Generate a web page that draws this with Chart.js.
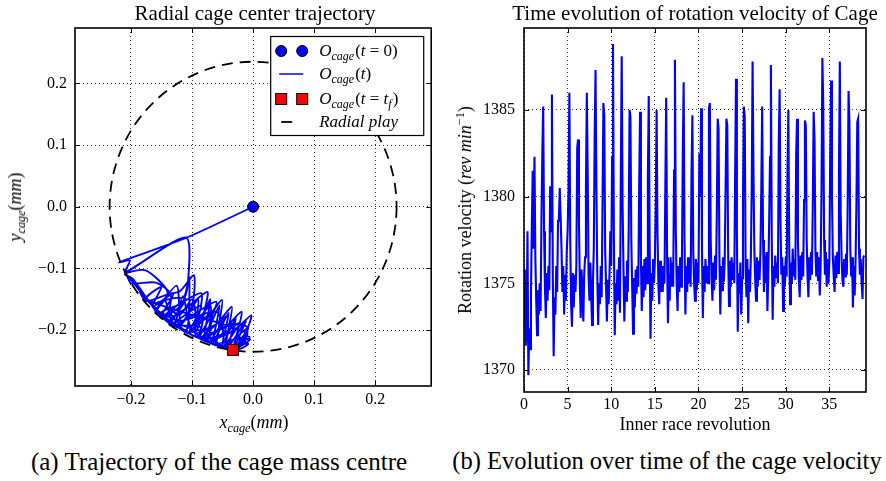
<!DOCTYPE html>
<html>
<head>
<meta charset="utf-8">
<script src="https://cdn.jsdelivr.net/npm/chart.js@4.4.1/dist/chart.umd.min.js"></script>
<style>
  body { margin: 0; background: #fff; }
  #wrap { position: relative; width: 886px; height: 481px; overflow: hidden; font-family: "Liberation Serif", serif; color: #000; }
  canvas { position: absolute; top: 0; }
  .txt { position: absolute; white-space: nowrap; transform: translate(-50%, -50%); line-height: 1; }
  .rot { transform: translate(-50%, -50%) rotate(-90deg); }
  sub { font-size: 68%; vertical-align: -0.3em; line-height: 0; }
  sup { font-size: 68%; vertical-align: 0.6em; line-height: 0; }
</style>
</head>
<body>
<div id="wrap">
  <canvas id="trajCanvas" width="440" height="440" style="left:0"></canvas>
  <canvas id="velCanvas" width="443" height="440" style="left:443px"></canvas>

  <div class="txt" style="left:255px; top:13px; font-size:21px">Radial cage center trajectory</div>
  <div class="txt" style="left:695px; top:13px; font-size:21px">Time evolution of rotation velocity of Cage</div>

  <div class="txt" style="left:254px; top:422px; font-size:18px"><i>x</i><sub><i>cage</i></sub>(<i>mm</i>)</div>
  <div class="txt rot" style="left:15px; top:207px; font-size:18px"><i>y</i><sub><i>cage</i></sub>(<i>mm</i>)</div>
  <div class="txt" style="left:695px; top:424px; font-size:18px">Inner race revolution</div>
  <div class="txt rot" style="left:465px; top:210px; font-size:18px">Rotation velocity (<i>rev min</i><sup>−1</sup>)</div>

  <div class="txt" style="left:219px; top:461px; font-size:25px">(a) Trajectory of the cage mass centre</div>
  <div class="txt" style="left:667px; top:461px; font-size:24.5px">(b) Evolution over time of the cage velocity</div>
</div>

<script>
// ---- left plot: cage centre trajectory (mm)
var trajX = [0, -0.111, -0.219, -0.202, -0.209, -0.110, -0.107, -0.118, -0.150, -0.197,
  -0.210, -0.176, -0.140, -0.160, -0.205, -0.200, -0.159, -0.135, -0.143, -0.185,
  -0.175, -0.140, -0.120, -0.097, -0.100, -0.125, -0.165, -0.130, -0.113, -0.105,
  -0.105, -0.110, -0.150, -0.125, -0.085, -0.090, -0.105, -0.135, -0.110, -0.075,
  -0.080, -0.090, -0.120, -0.090, -0.060, -0.068, -0.075, -0.110, -0.075, -0.051,
  -0.055, -0.062, -0.095, -0.060, -0.035, -0.040, -0.048, -0.085, -0.045, -0.019,
  -0.025, -0.035, -0.070, -0.030, -0.003, -0.012, -0.025, -0.060, -0.020, -0.006,
  -0.012, -0.045, -0.090, -0.070, -0.075, -0.120, -0.140, -0.120, -0.100, -0.095,
  -0.130, -0.155, -0.120, -0.060, -0.050, -0.080, -0.035, -0.010, -0.015, -0.050,
  -0.100, -0.115, -0.130, -0.145, -0.160, -0.125, -0.118, -0.090, -0.095, -0.070,
  -0.080, -0.055, -0.065, -0.040, -0.050, -0.028, -0.040, -0.012, -0.030, -0.010,
  -0.175, -0.150, -0.165, -0.130, -0.150, -0.110, -0.135, -0.085, -0.105, -0.065,
  -0.088, -0.045, -0.070, -0.022, -0.045, -0.008, -0.028, -0.005,
  -0.025, -0.008, -0.020, -0.033];
var trajY = [0, -0.051, -0.090, -0.087, -0.106, -0.050, -0.126, -0.160, -0.176, -0.117,
  -0.109, -0.103, -0.138, -0.164, -0.112, -0.124, -0.123, -0.142, -0.178, -0.138,
  -0.153, -0.142, -0.137, -0.111, -0.160, -0.195, -0.160, -0.148, -0.146, -0.114,
  -0.170, -0.200, -0.172, -0.160, -0.140, -0.180, -0.205, -0.183, -0.165, -0.138,
  -0.170, -0.210, -0.192, -0.170, -0.154, -0.180, -0.216, -0.200, -0.180, -0.151,
  -0.185, -0.221, -0.208, -0.190, -0.162, -0.195, -0.225, -0.213, -0.195, -0.170,
  -0.200, -0.228, -0.220, -0.200, -0.176, -0.205, -0.230, -0.224, -0.212, -0.211,
  -0.222, -0.228, -0.190, -0.160, -0.200, -0.190, -0.165, -0.175, -0.150, -0.190,
  -0.190, -0.170, -0.185, -0.170, -0.205, -0.215, -0.190, -0.195, -0.220, -0.226,
  -0.200, -0.145, -0.195, -0.150, -0.170, -0.128, -0.190, -0.150, -0.205, -0.150,
  -0.212, -0.160, -0.218, -0.172, -0.222, -0.180, -0.226, -0.185, -0.228, -0.205,
  -0.150, -0.130, -0.162, -0.140, -0.178, -0.150, -0.190, -0.160, -0.205, -0.168,
  -0.213, -0.178, -0.220, -0.188, -0.225, -0.196, -0.229, -0.215,
  -0.215, -0.222, -0.230, -0.232];
var radialPlay = 0.235;
var trajTicks = [-0.2, -0.1, 0, 0.1, 0.2];
var trajTickLabels = ['−0.2', '−0.1', '0.0', '0.1', '0.2'];
var legendLabels = [
  [['O', 'i'], ['cage', 's'], ['(', ''], ['t', 'i'], [' = ', ''], ['0', ''], [')', '']],
  [['O', 'i'], ['cage', 's'], ['(', ''], ['t', 'i'], [')', '']],
  [['O', 'i'], ['cage', 's'], ['(', ''], ['t', 'i'], [' = ', ''], ['t', 'i'], ['f', 's'], [')', '']],
  [['Radial play', 'i']]
];

// ---- right plot: cage rotation velocity (rev/min), one row per inner race revolution
var revStep = 0.1;
var velocity = [
  1375.8, 1373.0, 1371.4, 1372.5, 1378.0, 1369.7, 1372.4, 1371.2, 1374.5, 1378.5,
  1381.5, 1377.0, 1382.3, 1376.5, 1374.0, 1372.0, 1374.6, 1373.2, 1375.0, 1373.4,
  1378.7, 1382.5, 1385.2, 1378.0, 1374.8, 1373.0, 1375.6, 1374.0, 1376.0, 1374.6,
  1380.6, 1378.0, 1385.9, 1375.5, 1370.8, 1374.2, 1373.2, 1376.0, 1374.5, 1378.6,
  1378.7, 1380.5, 1378.8, 1377.0, 1374.5, 1376.0, 1373.2, 1375.5, 1374.0, 1376.8,
  1378.0, 1380.4, 1386.0, 1377.5, 1373.8, 1372.5, 1375.6, 1373.6, 1375.5, 1374.5,
  1376.0, 1382.8, 1383.3, 1378.5, 1375.0, 1373.0, 1375.8, 1374.5, 1372.8, 1375.5,
  1376.5, 1380.6, 1386.0, 1381.5, 1375.5, 1374.0, 1376.2, 1374.5, 1372.6, 1375.0,
  1377.0, 1383.5, 1387.3, 1380.5, 1375.5, 1372.6, 1375.0, 1373.8, 1376.0, 1374.2,
  1379.5, 1385.4, 1384.7, 1377.0, 1375.0, 1372.8, 1375.2, 1373.8, 1375.5, 1378.0,
  1376.0, 1382.3, 1388.8, 1378.0, 1372.0, 1375.0, 1373.8, 1375.8, 1374.0, 1376.5,
  1373.3, 1381.5, 1388.1, 1379.5, 1376.0, 1372.8, 1375.4, 1374.0, 1376.3, 1374.5,
  1378.0, 1385.0, 1384.6, 1377.5, 1374.8, 1372.1, 1375.3, 1373.6, 1375.8, 1374.4,
  1376.0, 1374.8, 1380.5, 1384.9, 1376.5, 1373.4, 1376.0, 1374.2, 1376.4, 1374.6,
  1376.5, 1375.0, 1381.2, 1385.8, 1377.5, 1371.8, 1375.6, 1374.0, 1376.4, 1375.0,
  1376.3, 1379.5, 1385.0, 1378.0, 1375.0, 1373.8, 1376.3, 1374.5, 1376.0, 1374.5,
  1376.0, 1375.0, 1380.5, 1385.7, 1376.5, 1372.7, 1375.5, 1374.0, 1376.5, 1374.8,
  1376.2, 1374.8, 1381.5, 1387.9, 1378.0, 1375.0, 1373.4, 1376.0, 1374.5, 1376.5,
  1374.8, 1376.2, 1382.5, 1386.6, 1377.5, 1373.2, 1376.0, 1374.5, 1376.5, 1375.0,
  1376.5, 1374.8, 1381.3, 1384.7, 1376.8, 1375.0, 1374.0, 1376.4, 1374.6, 1376.2,
  1375.0, 1382.5, 1380.0, 1385.1, 1377.0, 1373.0, 1376.0, 1374.5, 1376.4, 1375.0,
  1376.0, 1375.0, 1385.1, 1385.4, 1377.5, 1375.2, 1374.0, 1376.2, 1374.6, 1376.6,
  1375.2, 1379.0, 1384.5, 1383.9, 1376.5, 1373.2, 1376.0, 1374.6, 1376.5, 1375.1,
  1376.2, 1380.2, 1384.5, 1384.1, 1376.8, 1373.7, 1376.3, 1374.8, 1376.5, 1375.2,
  1376.2, 1375.0, 1381.2, 1386.8, 1378.0, 1372.2, 1375.6, 1374.4, 1376.2, 1373.2,
  1375.3, 1379.9, 1385.2, 1384.6, 1376.0, 1374.2, 1376.4, 1372.7, 1375.8, 1374.5,
  1376.5, 1380.4, 1387.8, 1381.5, 1377.0, 1375.2, 1374.0, 1376.5, 1374.8, 1376.3,
  1375.2, 1376.8, 1380.5, 1385.2, 1377.5, 1374.5, 1376.6, 1375.0, 1376.8, 1373.4,
  1375.5, 1378.5, 1382.3, 1387.6, 1377.5, 1372.9, 1376.0, 1374.8, 1376.6, 1375.3,
  1376.2, 1375.0, 1383.0, 1386.2, 1378.5, 1375.5, 1376.5, 1373.4, 1376.0, 1374.8,
  1376.5, 1375.4, 1381.4, 1385.0, 1377.0, 1373.8, 1376.2, 1375.0, 1377.0, 1375.4,
  1376.4, 1375.2, 1382.6, 1384.5, 1377.5, 1375.3, 1374.2, 1376.6, 1375.2, 1376.8,
  1375.4, 1379.8, 1384.4, 1384.1, 1377.5, 1375.4, 1374.2, 1376.5, 1375.2, 1376.8,
  1375.5, 1379.5, 1384.9, 1383.3, 1377.0, 1375.4, 1376.8, 1375.2, 1376.5, 1374.3,
  1376.0, 1380.2, 1388.0, 1385.3, 1377.5, 1375.5, 1376.8, 1374.8, 1376.4, 1375.0,
  1376.3, 1382.4, 1386.7, 1380.0, 1376.5, 1375.4, 1374.5, 1376.6, 1375.3, 1376.8,
  1375.6, 1381.4, 1387.8, 1379.0, 1376.5, 1375.2, 1374.8, 1376.4, 1375.4, 1376.7,
  1375.5, 1379.5, 1386.1, 1384.3, 1377.0, 1375.4, 1376.5, 1373.6, 1376.0, 1374.3,
  1376.2, 1379.5, 1384.3, 1384.5, 1377.0, 1375.5, 1376.4, 1375.0, 1374.1, 1376.5,
  1376.6
];
var velXTicks = [0, 5, 10, 15, 20, 25, 30, 35];
var velXTickLabels = ['0', '5', '10', '15', '20', '25', '30', '35'];
var velYTicks = [1370, 1375, 1380, 1385];
var velYTickLabels = ['1370', '1375', '1380', '1385'];

Chart.defaults.font.family = '"Liberation Serif", serif';
Chart.defaults.font.size = 16;
Chart.defaults.color = '#000';

// box round the plot area plus matplotlib-like inward ticks
var framePlugin = {
  id: 'frame',
  afterDatasetsDraw: function(chart) {
    var a = chart.chartArea, ctx = chart.ctx;
    var xs = chart.scales.x, ys = chart.scales.y;
    ctx.save();
    ctx.strokeStyle = '#000';
    ctx.lineWidth = 1;
    ctx.beginPath();
    xs.ticks.forEach(function(t) {
      var px = Math.round(xs.getPixelForValue(t.value)) + 0.5;
      ctx.moveTo(px, a.top); ctx.lineTo(px, a.top + 5);
      ctx.moveTo(px, a.bottom); ctx.lineTo(px, a.bottom - 5);
    });
    ys.ticks.forEach(function(t) {
      var py = Math.round(ys.getPixelForValue(t.value)) + 0.5;
      ctx.moveTo(a.left, py); ctx.lineTo(a.left + 5, py);
      ctx.moveTo(a.right, py); ctx.lineTo(a.right - 5, py);
    });
    ctx.stroke();
    ctx.lineWidth = 1.6;
    ctx.strokeRect(a.left, a.top, a.right - a.left, a.bottom - a.top);
    ctx.restore();
  }
};

// dashed circle of the radial play, drawn right after the trajectory
var radialPlayPlugin = {
  id: 'radialPlay',
  afterDatasetDraw: function(chart, args) {
    if (args.index !== 2) return;
    var xs = chart.scales.x, ys = chart.scales.y, ctx = chart.ctx, a = chart.chartArea;
    var cx = xs.getPixelForValue(0), cy = ys.getPixelForValue(0);
    var rx = xs.getPixelForValue(radialPlay) - cx;
    var ry = cy - ys.getPixelForValue(radialPlay);
    ctx.save();
    ctx.beginPath();
    ctx.rect(a.left, a.top, a.right - a.left, a.bottom - a.top);
    ctx.clip();
    ctx.setLineDash([11, 7]);
    ctx.lineWidth = 1.8;
    ctx.strokeStyle = '#000';
    ctx.beginPath();
    ctx.ellipse(cx, cy, rx, ry, 0, 0, 2 * Math.PI);
    ctx.stroke();
    ctx.restore();
  }
};

function drawMath(ctx, x, y, parts) {
  parts.forEach(function(p) {
    var sub = p[1] === 's';
    var italic = p[1] === 'i' || sub;
    ctx.font = (italic ? 'italic ' : '') + (sub ? '12px' : '17px') + ' "Liberation Serif", serif';
    ctx.fillText(p[0], x, sub ? y + 4 : y);
    x += ctx.measureText(p[0]).width + (sub ? 1 : 0);
  });
}

var legendPlugin = {
  id: 'mathLegend',
  afterDraw: function(chart) {
    var a = chart.chartArea, ctx = chart.ctx;
    var w = 153, h = 99;
    var left = a.right - 8 - w, top = a.top + 8;
    var rows = [15, 38, 63, 86];
    ctx.save();
    ctx.fillStyle = '#fff';
    ctx.fillRect(left, top, w, h);
    ctx.strokeStyle = '#000';
    ctx.lineWidth = 1.2;
    ctx.strokeRect(left + 0.5, top + 0.5, w, h);

    // markers
    [11, 32].forEach(function(dx) {
      ctx.beginPath();
      ctx.arc(left + dx, top + rows[0], 5.5, 0, 2 * Math.PI);
      ctx.fillStyle = '#0000ff'; ctx.fill();
      ctx.lineWidth = 1; ctx.strokeStyle = '#000'; ctx.stroke();
      ctx.fillStyle = '#ff0000';
      ctx.fillRect(left + dx - 5.5, top + rows[2] - 5.5, 11, 11);
      ctx.strokeRect(left + dx - 5.5, top + rows[2] - 5.5, 11, 11);
    });
    ctx.beginPath();
    ctx.moveTo(left + 9, top + rows[1]); ctx.lineTo(left + 33, top + rows[1]);
    ctx.strokeStyle = '#0000ff'; ctx.lineWidth = 1.5; ctx.stroke();
    ctx.beginPath();
    ctx.moveTo(left + 11, top + rows[3]); ctx.lineTo(left + 22, top + rows[3]);
    ctx.strokeStyle = '#000'; ctx.lineWidth = 1.8; ctx.stroke();

    ctx.fillStyle = '#000';
    ctx.textBaseline = 'alphabetic';
    legendLabels.forEach(function(parts, i) {
      drawMath(ctx, left + 49, top + rows[i] + 5, parts);
    });
    ctx.restore();
  }
};

function gridOpts() {
  return { color: '#000', lineWidth: 0.8, drawTicks: false };
}

var trajPoints = trajX.map(function(x, i) { return { x: x, y: trajY[i] }; });
var last = trajPoints.length - 1;

new Chart(document.getElementById('trajCanvas'), {
  type: 'scatter',
  data: {
    datasets: [
      { data: [trajPoints[0]], pointRadius: 5.5, pointBackgroundColor: '#0000ff', pointBorderColor: '#000', pointBorderWidth: 1 },
      { data: [trajPoints[last]], pointStyle: 'rect', pointRadius: 7.8, pointBackgroundColor: '#ff0000', pointBorderColor: '#000', pointBorderWidth: 1 },
      { data: trajPoints, showLine: true, borderColor: '#0000ff', borderWidth: 1.9, pointRadius: 0, tension: 0.25 }
    ]
  },
  options: {
    responsive: false,
    animation: false,
    layout: { padding: { top: 28, right: 5, left: 0, bottom: 0 } },
    plugins: { legend: { display: false }, tooltip: { enabled: false } },
    scales: {
      x: {
        type: 'linear', min: -0.2917, max: 0.2917,
        afterBuildTicks: function(s) { s.ticks = trajTicks.map(function(v) { return { value: v }; }); },
        afterFit: function(s) { s.height = 54; },
        grid: gridOpts(),
        border: { display: false, dash: [1, 3] },
        ticks: { padding: 4, autoSkip: false, maxRotation: 0, callback: function(v, i) { return trajTickLabels[i]; } }
      },
      y: {
        type: 'linear', min: -0.2905, max: 0.2897,
        afterBuildTicks: function(s) { s.ticks = trajTicks.map(function(v) { return { value: v }; }); },
        afterFit: function(s) { s.width = 75; },
        grid: gridOpts(),
        border: { display: false, dash: [1, 3] },
        ticks: { padding: 8, autoSkip: false, callback: function(v, i) { return trajTickLabels[i]; } }
      }
    }
  },
  plugins: [radialPlayPlugin, framePlugin, legendPlugin]
});

var velPoints = velocity.map(function(v, i) { return { x: i * revStep, y: v }; });

new Chart(document.getElementById('velCanvas'), {
  type: 'scatter',
  data: {
    datasets: [
      { data: velPoints, showLine: true, borderColor: '#0000ff', borderWidth: 2.1, pointRadius: 0, tension: 0 }
    ]
  },
  options: {
    responsive: false,
    animation: false,
    layout: { padding: { top: 28, right: 20, left: 0, bottom: 0 } },
    plugins: { legend: { display: false }, tooltip: { enabled: false } },
    scales: {
      x: {
        type: 'linear', min: 0, max: 39.2,
        afterBuildTicks: function(s) { s.ticks = velXTicks.map(function(v) { return { value: v }; }); },
        afterFit: function(s) { s.height = 48; },
        grid: gridOpts(),
        border: { display: false, dash: [1, 3] },
        ticks: { padding: 3, autoSkip: false, maxRotation: 0, callback: function(v, i) { return velXTickLabels[i]; } }
      },
      y: {
        type: 'linear', min: 1368.73, max: 1389.73,
        afterBuildTicks: function(s) { s.ticks = velYTicks.map(function(v) { return { value: v }; }); },
        afterFit: function(s) { s.width = 81; },
        grid: gridOpts(),
        border: { display: false, dash: [1, 3] },
        ticks: { padding: 9, autoSkip: false, callback: function(v, i) { return velYTickLabels[i]; } }
      }
    }
  },
  plugins: [framePlugin]
});
</script>
</body>
</html>
